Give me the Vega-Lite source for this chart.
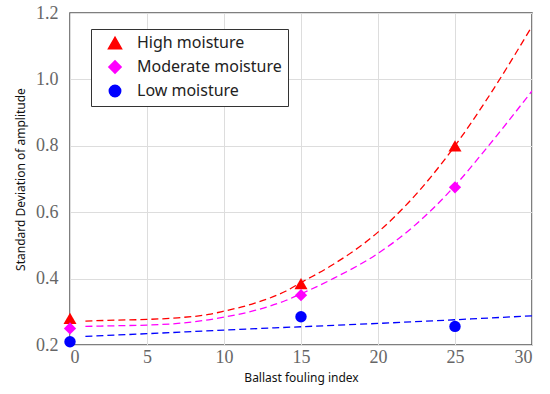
{
  "$schema": "https://vega.github.io/schema/vega-lite/v6.json",
  "width": 462,
  "height": 332,
  "autosize": {"type": "none"},
  "padding": {"left": 70, "top": 13, "right": 18, "bottom": 49},
  "background": "white",
  "config": {
    "view": {"stroke": "#555555", "strokeWidth": 1.5},
    "axis": {
      "gridColor": "#dddddd",
      "gridWidth": 1,
      "domain": false,
      "ticks": false,
      "labelFont": "Liberation Serif, DejaVu Serif, serif",
      "labelFontSize": 18,
      "labelColor": "#666666",
      "titleFont": "Noto Sans",
      "titleFontSize": 12,
      "titleFontWeight": "normal",
      "titleColor": "#111111"
    }
  },
  "datasets": {
    "curves": [
      {"series": "High moisture", "x": 1, "y": 0.272},
      {"series": "High moisture", "x": 3, "y": 0.275},
      {"series": "High moisture", "x": 5, "y": 0.277},
      {"series": "High moisture", "x": 7, "y": 0.282},
      {"series": "High moisture", "x": 9, "y": 0.292},
      {"series": "High moisture", "x": 10, "y": 0.302},
      {"series": "High moisture", "x": 12, "y": 0.326},
      {"series": "High moisture", "x": 14, "y": 0.362},
      {"series": "High moisture", "x": 15, "y": 0.388},
      {"series": "High moisture", "x": 17, "y": 0.44},
      {"series": "High moisture", "x": 20, "y": 0.54},
      {"series": "High moisture", "x": 22, "y": 0.63},
      {"series": "High moisture", "x": 25, "y": 0.80},
      {"series": "High moisture", "x": 27, "y": 0.935},
      {"series": "High moisture", "x": 30, "y": 1.16},
      {"series": "Moderate moisture", "x": 1, "y": 0.256},
      {"series": "Moderate moisture", "x": 3, "y": 0.258},
      {"series": "Moderate moisture", "x": 5, "y": 0.26},
      {"series": "Moderate moisture", "x": 7, "y": 0.265},
      {"series": "Moderate moisture", "x": 9, "y": 0.276},
      {"series": "Moderate moisture", "x": 10, "y": 0.284},
      {"series": "Moderate moisture", "x": 12, "y": 0.304},
      {"series": "Moderate moisture", "x": 14, "y": 0.334},
      {"series": "Moderate moisture", "x": 15, "y": 0.354},
      {"series": "Moderate moisture", "x": 17, "y": 0.398},
      {"series": "Moderate moisture", "x": 20, "y": 0.476},
      {"series": "Moderate moisture", "x": 22, "y": 0.545},
      {"series": "Moderate moisture", "x": 25, "y": 0.68},
      {"series": "Moderate moisture", "x": 27, "y": 0.79},
      {"series": "Moderate moisture", "x": 30, "y": 0.965},
      {"series": "Low moisture", "x": 1, "y": 0.226},
      {"series": "Low moisture", "x": 5, "y": 0.234},
      {"series": "Low moisture", "x": 10, "y": 0.245},
      {"series": "Low moisture", "x": 15, "y": 0.255},
      {"series": "Low moisture", "x": 20, "y": 0.265},
      {"series": "Low moisture", "x": 25, "y": 0.276},
      {"series": "Low moisture", "x": 30, "y": 0.288}
    ],
    "points": [
      {"series": "High moisture", "x": 0, "y": 0.28},
      {"series": "High moisture", "x": 15, "y": 0.385},
      {"series": "High moisture", "x": 25, "y": 0.80},
      {"series": "Moderate moisture", "x": 0, "y": 0.25},
      {"series": "Moderate moisture", "x": 15, "y": 0.35},
      {"series": "Moderate moisture", "x": 25, "y": 0.675},
      {"series": "Low moisture", "x": 0, "y": 0.21},
      {"series": "Low moisture", "x": 15, "y": 0.285},
      {"series": "Low moisture", "x": 25, "y": 0.256}
    ]
  },
  "layer": [
    {
      "data": {"name": "curves"},
      "mark": {"type": "line", "strokeDash": [7, 4], "strokeWidth": 1.3, "interpolate": "monotone", "clip": true},
      "encoding": {
        "x": {"field": "x", "type": "quantitative", "scale": {"domain": [0, 30], "nice": false}, "axis": {"values": [0, 5, 10, 15, 20, 25, 30], "title": "Ballast fouling index", "labelPadding": 3, "titlePadding": 6, "labelFont": "Liberation Serif, DejaVu Serif, serif", "labelFontSize": 18, "labelColor": "#666666"}},
        "y": {"field": "y", "type": "quantitative", "scale": {"domain": [0.2, 1.2], "nice": false, "zero": false}, "axis": {"values": [0.2, 0.4, 0.6, 0.8, 1.0, 1.2], "format": ".1f", "title": "Standard Deviation of amplitude", "labelPadding": 12, "titlePadding": 8, "labelFont": "Liberation Serif, DejaVu Serif, serif", "labelFontSize": 18, "labelColor": "#666666"}},
        "color": {"field": "series", "type": "nominal", "scale": {"domain": ["High moisture", "Moderate moisture", "Low moisture"], "range": ["#ff0000", "#ff00ff", "#0000ff"]},
          "legend": {"title": null, "orient": "none", "legendX": 21, "legendY": 16, "labelFont": "Noto Sans", "labelFontSize": 16, "labelColor": "#222222", "symbolSize": 120, "symbolOffset": 10, "labelOffset": 14, "rowPadding": 5, "strokeColor": "#333333", "fillColor": "white", "padding": 6, "labelLimit": 300}},
        "detail": {"field": "series"}
      }
    },
    {
      "data": {"name": "points"},
      "mark": {"type": "point", "filled": true, "opacity": 1, "clip": false},
      "encoding": {
        "x": {"field": "x", "type": "quantitative"},
        "y": {"field": "y", "type": "quantitative"},
        "color": {"field": "series", "type": "nominal",
          "legend": {"title": null, "orient": "none", "legendX": 21, "legendY": 16, "labelFont": "Noto Sans", "labelFontSize": 16, "labelColor": "#222222", "symbolSize": 120, "symbolOffset": 10, "labelOffset": 14, "rowPadding": 5, "strokeColor": "#333333", "fillColor": "white", "padding": 6, "labelLimit": 300}},
        "shape": {"field": "series", "type": "nominal", "scale": {"domain": ["High moisture", "Moderate moisture", "Low moisture"], "range": ["triangle-up", "diamond", "circle"]},
          "legend": {"title": null, "orient": "none", "legendX": 21, "legendY": 16, "labelFont": "Noto Sans", "labelFontSize": 16, "labelColor": "#222222", "symbolSize": 120, "symbolOffset": 10, "labelOffset": 14, "rowPadding": 5, "strokeColor": "#333333", "fillColor": "white", "padding": 6, "labelLimit": 300}},
        "size": {"field": "series", "type": "nominal", "scale": {"domain": ["High moisture", "Moderate moisture", "Low moisture"], "range": [170, 130, 85]}, "legend": null}
      }
    }
  ]
}
